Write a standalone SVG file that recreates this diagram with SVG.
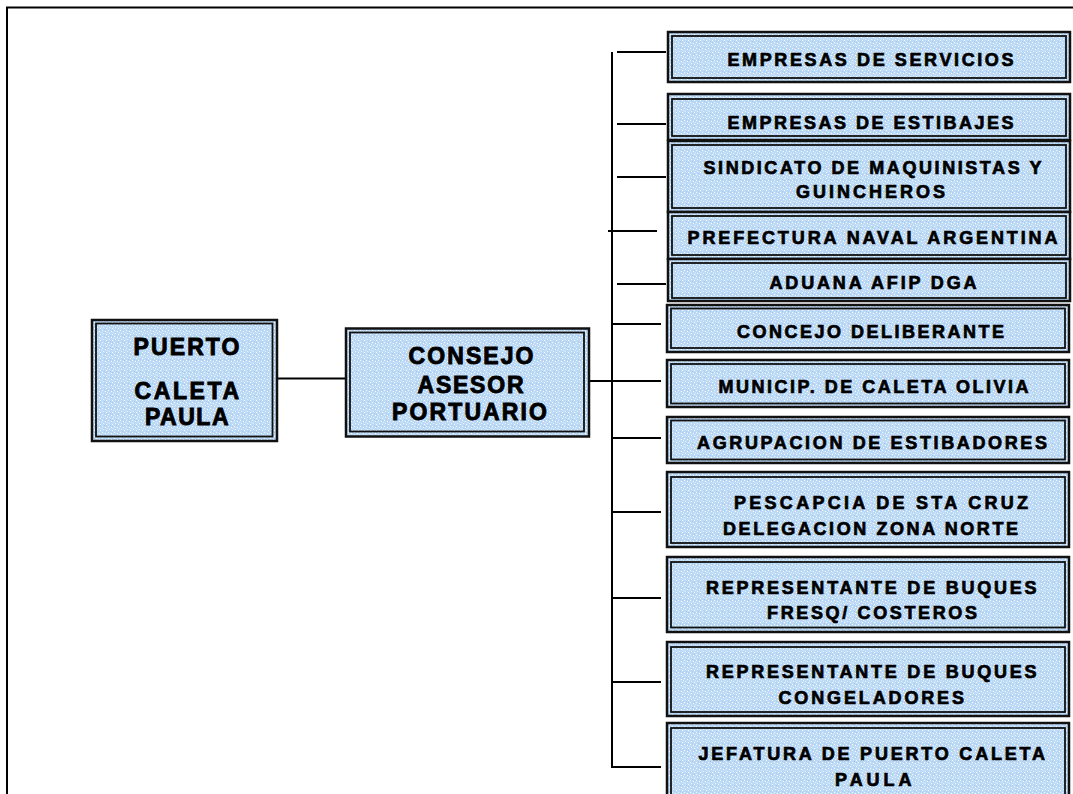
<svg xmlns="http://www.w3.org/2000/svg" width="1073" height="794" viewBox="0 0 1073 794">
<defs>
<pattern id="tex" width="6" height="6" patternUnits="userSpaceOnUse">
<rect width="6" height="6" fill="#bcd9f6"/>
<rect x="0" y="0" width="1" height="1" fill="#f2f8ff"/>
<rect x="3" y="1" width="1" height="1" fill="#ffffff"/>
<rect x="1" y="3" width="1" height="1" fill="#e6f1fd"/>
<rect x="4" y="4" width="1" height="1" fill="#ffffff"/>
<rect x="5" y="2" width="1" height="1" fill="#dcebfb"/>
<rect x="2" y="5" width="1" height="1" fill="#a9cbef"/>
<rect x="4" y="0" width="1" height="1" fill="#a9cbef"/>
</pattern>
</defs>
<style>
.outer{fill:url(#tex);stroke:#111;stroke-width:2.5}
.inner{fill:none;stroke:#111;stroke-width:1.8}
.t{font-family:"Liberation Sans",Arial,sans-serif;font-weight:bold;fill:#000;stroke:#000}
.s{font-size:18px;stroke-width:0.7}
.l{font-size:23px;stroke-width:0.9}
.c{fill:none;stroke:#000;stroke-width:2}
</style>
<rect width="1073" height="794" fill="#fff"/>
<path d="M7 794 V7.5 H1073" fill="none" stroke="#000" stroke-width="2"/>

<g id="connectors">
<line class="c" x1="612" y1="52" x2="612" y2="767"/>
<line class="c" x1="617" y1="52" x2="666" y2="52"/>
<line class="c" x1="617" y1="124" x2="666" y2="124"/>
<line class="c" x1="617" y1="177" x2="666" y2="177"/>
<line class="c" x1="608" y1="231" x2="657" y2="231"/>
<line class="c" x1="617" y1="284" x2="666" y2="284"/>
<line class="c" x1="612" y1="324" x2="661" y2="324"/>
<line class="c" x1="612" y1="381" x2="661" y2="381"/>
<line class="c" x1="612" y1="438" x2="661" y2="438"/>
<line class="c" x1="612" y1="512" x2="661" y2="512"/>
<line class="c" x1="612" y1="598" x2="661" y2="598"/>
<line class="c" x1="612" y1="682" x2="661" y2="682"/>
<line class="c" x1="611" y1="767" x2="661" y2="767"/>
<line class="c" x1="277" y1="378.5" x2="346" y2="378.5"/>
<line class="c" x1="589" y1="381" x2="612" y2="381"/>
</g>

<g id="puerto">
<rect class="outer" x="92" y="320" width="185" height="121"/>
<rect class="inner" x="96" y="323.5" width="176.5" height="113"/>
<text class="t l" x="133.5" y="355" textLength="106">PUERTO</text>
<text class="t l" x="134.5" y="398.5" textLength="104.5">CALETA</text>
<text class="t l" x="145" y="425" textLength="83.5">PAULA</text>
</g>

<g id="consejo">
<rect class="outer" x="346" y="328.5" width="243" height="108"/>
<rect class="inner" x="350" y="332.5" width="234" height="99"/>
<text class="t l" x="408.5" y="363.5" textLength="125">CONSEJO</text>
<text class="t l" x="417.5" y="392.5" textLength="106">ASESOR</text>
<text class="t l" x="392" y="420" textLength="155">PORTUARIO</text>
</g>

<g id="n1">
<rect class="outer" x="668" y="32" width="402" height="50"/>
<rect class="inner" x="672" y="36" width="394" height="42"/>
<text class="t s" x="727.5" y="66" textLength="286">EMPRESAS DE SERVICIOS</text>
</g>
<g id="n2">
<rect class="outer" x="668" y="94" width="402" height="46"/>
<rect class="inner" x="672" y="99" width="394" height="37"/>
<text class="t s" x="727.5" y="128.5" textLength="286">EMPRESAS DE ESTIBAJES</text>
</g>
<g id="n3">
<rect class="outer" x="668" y="141" width="402" height="71"/>
<rect class="inner" x="672" y="145" width="394" height="63"/>
<text class="t s" x="703.5" y="173.5" textLength="338">SINDICATO DE MAQUINISTAS Y</text>
<text class="t s" x="796" y="197.5" textLength="149">GUINCHEROS</text>
</g>
<g id="n4">
<rect class="outer" x="668" y="212" width="402" height="47"/>
<rect class="inner" x="672" y="216" width="394" height="39"/>
<text class="t s" x="687.5" y="243.5" textLength="370">PREFECTURA NAVAL ARGENTINA</text>
</g>
<g id="n5">
<rect class="outer" x="668" y="259" width="402" height="42"/>
<rect class="inner" x="672" y="263" width="394" height="35"/>
<text class="t s" x="769.5" y="288.5" textLength="207">ADUANA AFIP DGA</text>
</g>
<g id="n6">
<rect class="outer" x="667" y="305" width="402" height="47"/>
<rect class="inner" x="671" y="308.5" width="394" height="39.5"/>
<text class="t s" x="737" y="338" textLength="267">CONCEJO DELIBERANTE</text>
</g>
<g id="n7">
<rect class="outer" x="667" y="360" width="402" height="47"/>
<rect class="inner" x="671" y="364" width="394" height="39.5"/>
<text class="t s" x="718.5" y="392.5" textLength="310">MUNICIP. DE CALETA OLIVIA</text>
</g>
<g id="n8">
<rect class="outer" x="667" y="417" width="402" height="46"/>
<rect class="inner" x="671" y="420.5" width="394" height="39"/>
<text class="t s" x="697" y="448.5" textLength="350">AGRUPACION DE ESTIBADORES</text>
</g>
<g id="n9">
<rect class="outer" x="667" y="472" width="402" height="75"/>
<rect class="inner" x="671" y="477" width="394" height="66"/>
<text class="t s" x="734" y="508.5" textLength="294">PESCAPCIA DE STA CRUZ</text>
<text class="t s" x="723" y="534.5" textLength="295">DELEGACION ZONA NORTE</text>
</g>
<g id="n10">
<rect class="outer" x="667" y="557" width="402" height="75"/>
<rect class="inner" x="671" y="562" width="394" height="65.5"/>
<text class="t s" x="706" y="593.5" textLength="330.5">REPRESENTANTE DE BUQUES</text>
<text class="t s" x="767" y="618.5" textLength="210">FRESQ/ COSTEROS</text>
</g>
<g id="n11">
<rect class="outer" x="667" y="642" width="402" height="74"/>
<rect class="inner" x="671" y="647" width="394" height="65"/>
<text class="t s" x="706" y="677.5" textLength="330.5">REPRESENTANTE DE BUQUES</text>
<text class="t s" x="778.5" y="704" textLength="185.5">CONGELADORES</text>
</g>
<g id="n12">
<rect class="outer" x="667" y="723" width="402" height="80"/>
<rect class="inner" x="671" y="728" width="394" height="70"/>
<text class="t s" x="698.5" y="759.5" textLength="346.5">JEFATURA DE PUERTO CALETA</text>
<text class="t s" x="835" y="786" textLength="76.5">PAULA</text>
</g>
</svg>
